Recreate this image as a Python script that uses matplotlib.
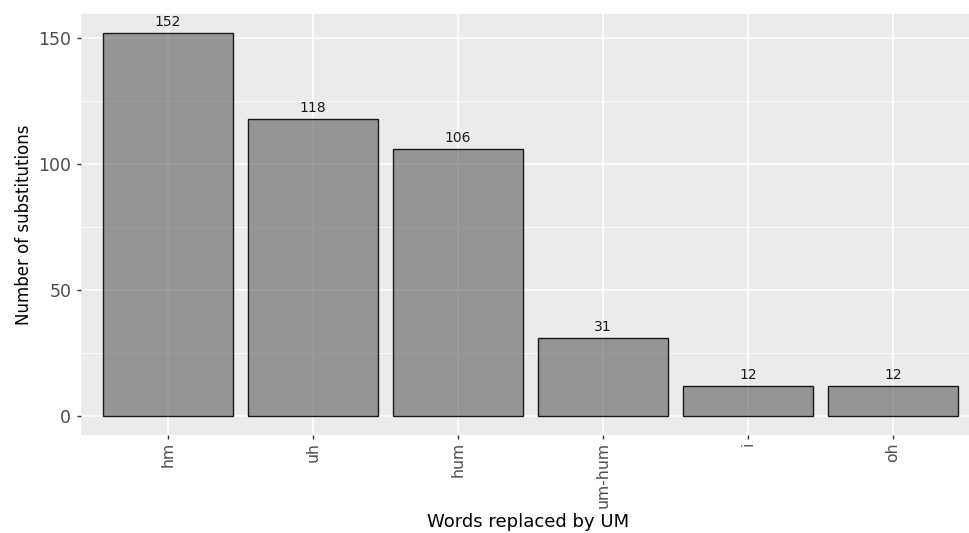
import matplotlib
matplotlib.use('Agg')
import matplotlib.pyplot as plt
from matplotlib.ticker import MultipleLocator

plt.rcParams['font.family'] = ['DejaVu Sans']

words = ['hm', 'uh', 'hum', 'um-hum', 'i', 'oh']
counts = [152, 118, 106, 31, 12, 12]

fig = plt.figure(figsize=(9.69, 5.33), dpi=100)
# panel runs past the right edge, like the cropped original
ax = fig.add_axes([0.0836, 0.1839, 0.9278, 0.7899])
ax.set_facecolor('#EBEBEB')

x = list(range(len(words)))
ax.bar(x, counts, width=0.9, color=(0.36, 0.36, 0.36, 0.6), edgecolor='#1a1a1a',
       linewidth=1.0, zorder=3)
for xi, c in zip(x, counts):
    ax.text(xi, c + 1.6, str(c), ha='center', va='bottom', fontsize=10, color='#1a1a1a', zorder=4)

ax.set_xlim(-0.6, len(words) - 0.4)
ax.set_ylim(-7.6, 159.6)
ax.yaxis.set_major_locator(MultipleLocator(50))
ax.yaxis.set_minor_locator(MultipleLocator(25))
ax.set_xticks(x)
ax.set_xticklabels(words, rotation=90)

ax.grid(which='major', color='white', linewidth=1.1, zorder=0)
ax.grid(which='minor', axis='y', color='white', linewidth=0.55, zorder=0)
ax.set_axisbelow(True)
for s in ax.spines.values():
    s.set_visible(False)

ax.tick_params(axis='both', which='major', colors='#333333', labelcolor='#4D4D4D',
               length=3, width=1)
ax.tick_params(axis='y', pad=4, labelsize=12.5)
ax.tick_params(axis='x', pad=2, labelsize=11.3)
ax.tick_params(axis='y', which='minor', length=0)

ax.set_xlabel('Words replaced by UM', fontsize=13)
ax.set_ylabel('Number of substitutions', fontsize=12)
ax.xaxis.set_label_coords(0.497, -0.185)
ax.yaxis.set_label_coords(-0.0534, 0.5)

fig.savefig('out.png', dpi=100)
